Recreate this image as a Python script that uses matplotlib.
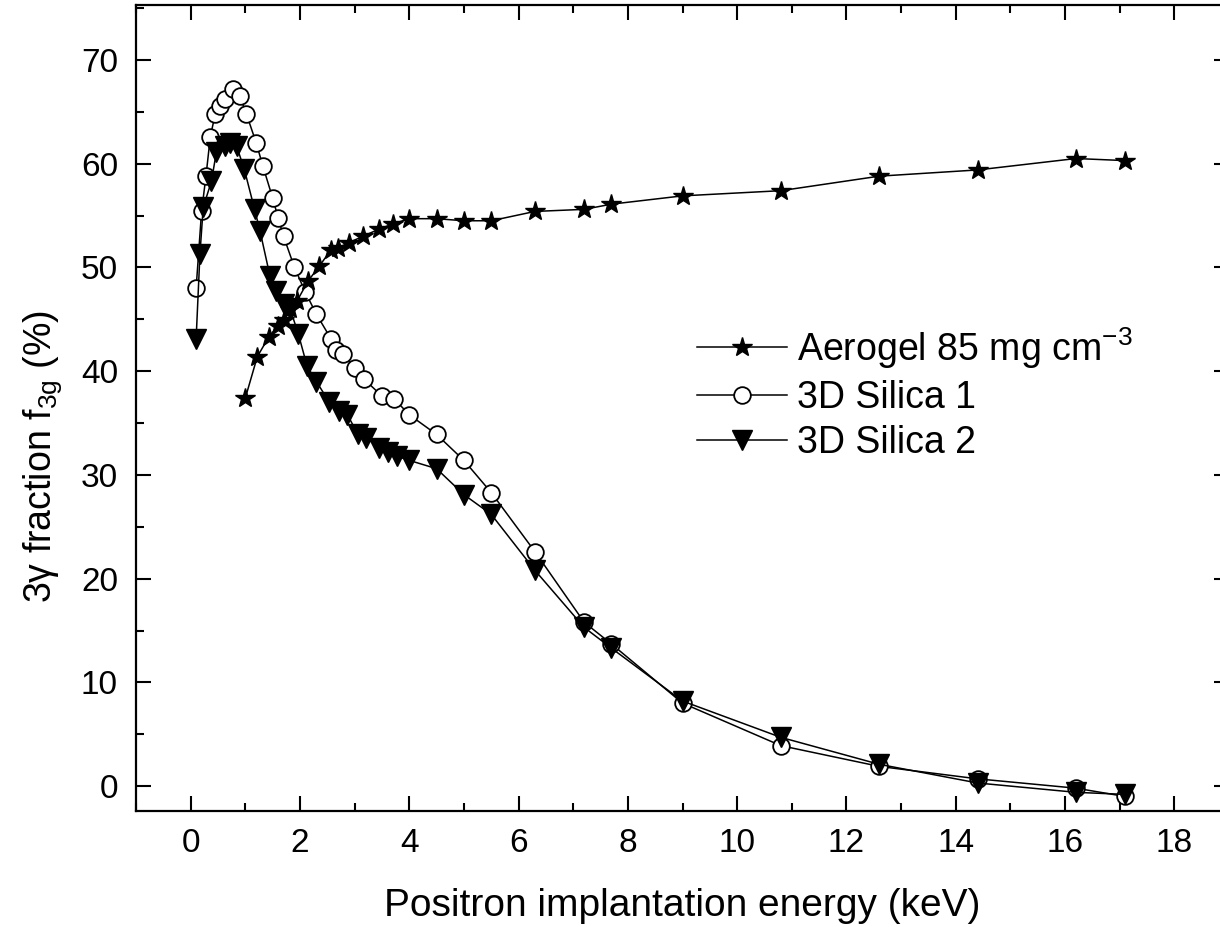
import matplotlib
matplotlib.use("Agg")
import matplotlib.pyplot as plt
from matplotlib.ticker import MultipleLocator

# Aerogel 85 mg cm-3 (stars)
aero_e = [1.0, 1.22, 1.43, 1.6, 1.7, 1.82, 1.95, 2.15, 2.35, 2.57, 2.7, 2.9, 3.15,
          3.45, 3.7, 4.0, 4.5, 5.0, 5.5, 6.3, 7.2, 7.7, 9.0, 10.8, 12.6, 14.4, 16.2, 17.1]
aero_f = [37.4, 41.4, 43.3, 44.4, 44.9, 46.0, 46.8, 48.7, 50.1, 51.7, 51.9, 52.4, 53.0,
          53.7, 54.2, 54.7, 54.7, 54.5, 54.5, 55.4, 55.6, 56.1, 56.9, 57.4, 58.8, 59.4, 60.5, 60.3]

# 3D Silica 1 (open circles)
s1_e = [0.1, 0.2, 0.28, 0.36, 0.45, 0.54, 0.63, 0.78, 0.9, 1.02, 1.2, 1.32, 1.5, 1.6,
        1.7, 1.9, 2.1, 2.3, 2.57, 2.66, 2.78, 3.0, 3.18, 3.5, 3.73, 4.0, 4.5, 5.0, 5.5,
        6.3, 7.2, 7.7, 9.0, 10.8, 12.6, 14.4, 16.2, 17.1]
s1_f = [48.0, 55.4, 58.8, 62.6, 64.8, 65.6, 66.2, 67.2, 66.5, 64.8, 62.0, 59.8, 56.7, 54.8,
        53.0, 50.0, 47.6, 45.5, 43.1, 42.0, 41.7, 40.3, 39.2, 37.6, 37.3, 35.8, 33.9, 31.4, 28.3,
        22.6, 15.8, 13.7, 8.0, 3.9, 1.9, 0.7, -0.2, -1.0]

# 3D Silica 2 (filled down triangles)
s2_e = [0.1, 0.17, 0.23, 0.38, 0.47, 0.63, 0.72, 0.84, 0.98, 1.17, 1.27, 1.45, 1.57, 1.7,
        1.82, 1.97, 2.13, 2.3, 2.54, 2.72, 2.87, 3.06, 3.21, 3.45, 3.62, 3.78, 4.0, 4.5, 5.0,
        5.5, 6.3, 7.2, 7.7, 9.0, 10.8, 12.6, 14.4, 16.2, 17.1]
s2_f = [43.1, 51.3, 55.8, 58.3, 61.1, 61.7, 62.0, 61.7, 59.5, 55.6, 53.5, 49.2, 47.7, 46.5,
        46.0, 43.6, 40.5, 39.0, 37.0, 36.2, 35.8, 33.9, 33.6, 32.6, 32.2, 31.8, 31.4, 30.6, 28.1,
        26.2, 20.8, 15.3, 13.3, 8.2, 4.7, 2.1, 0.3, -0.6, -0.8]

plt.rcParams['font.family'] = ['Liberation Sans', 'DejaVu Sans']
plt.rcParams['mathtext.fontset'] = 'custom'
plt.rcParams['mathtext.rm'] = 'Liberation Sans'
plt.rcParams['mathtext.default'] = 'regular'

fig = plt.figure(figsize=(12.2, 9.27), dpi=100)
ax = fig.add_axes([136/1220, 1 - 811/927, (1229 - 136)/1220, (811 - 5)/927])

ax.plot(s1_e, s1_f, color='black', lw=1.1, marker='o', ms=12, mfc='white', mec='black',
        mew=1.3, label='3D Silica 1', zorder=3)
ax.plot(s2_e, s2_f, color='black', lw=1.1, marker='v', ms=15, mfc='black', mec='black',
        label='3D Silica 2', zorder=4)
ax.plot(aero_e, aero_f, color='black', lw=1.1, marker='*', ms=15, mfc='black', mec='black',
        label='Aerogel 85 mg cm$^{-3}$', zorder=5)

ax.set_xlim(-1, 19)
ax.set_ylim(-2.4, 75.3)
ax.xaxis.set_major_locator(MultipleLocator(2))
ax.xaxis.set_minor_locator(MultipleLocator(1))
ax.yaxis.set_major_locator(MultipleLocator(10))
ax.yaxis.set_minor_locator(MultipleLocator(5))
ax.tick_params(which='both', direction='in', top=True, right=True, width=1.5,
               labelsize=24)
ax.tick_params(axis='x', which='major', length=11, pad=12)
ax.tick_params(axis='y', which='major', length=11, pad=13)
ax.tick_params(which='minor', length=6)
for sp in ax.spines.values():
    sp.set_linewidth(1.6)

ax.set_xlabel('Positron implantation energy (keV)', fontsize=28, labelpad=21)
ax.set_ylabel(r'3$\gamma$ fraction f$_{3g}$ (%)', fontsize=27)
ax.yaxis.set_label_coords(-0.066, 0.44)

handles, labels = ax.get_legend_handles_labels()
order = [2, 0, 1]
ax.legend([handles[i] for i in order], [labels[i] for i in order],
          loc='upper left', bbox_to_anchor=(697/1220, 1 - 325/927),
          bbox_transform=fig.transFigure, frameon=False, fontsize=27,
          handlelength=2.4, handletextpad=0.27, labelspacing=0.25,
          borderpad=0, borderaxespad=0)

fig.savefig('out.png', dpi=100)
